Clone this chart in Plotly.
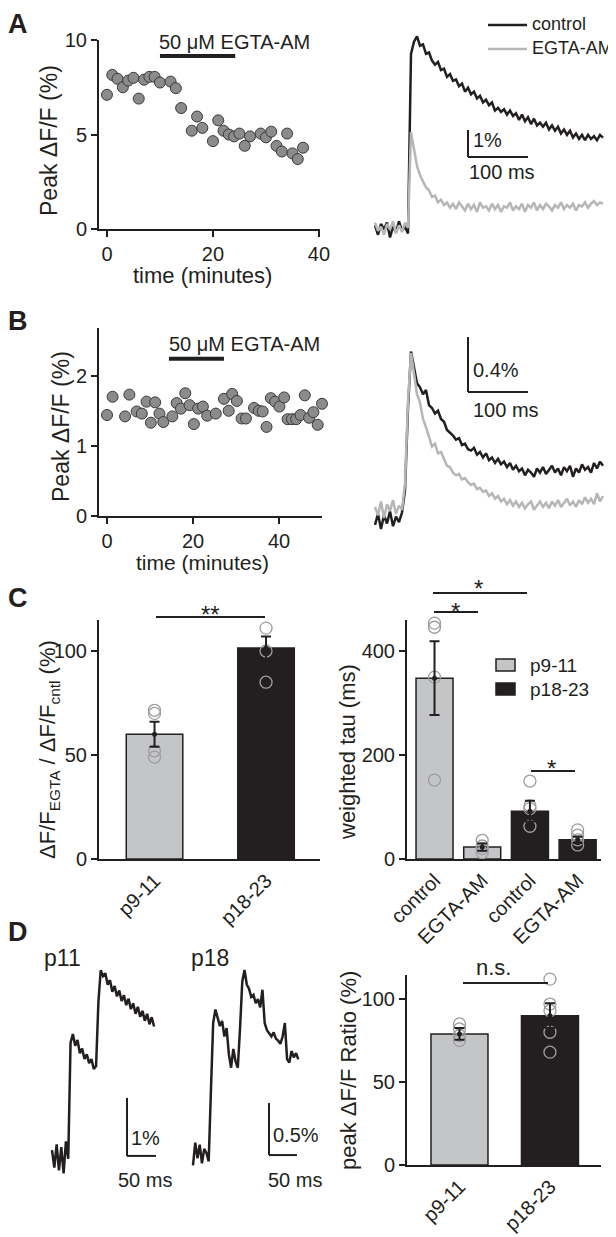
import plotly.graph_objects as go

# ---------------- data ----------------
# Panel A: peak dF/F over time
A_time_min = [0, 1, 2, 3, 4, 5, 6, 7, 8, 9, 10, 12, 13, 14, 16, 17, 18, 20, 21, 22, 23, 24, 25, 26, 27, 29, 30, 31, 32, 33, 34, 35, 36, 37]
A_peak = [7.1, 8.15, 7.95, 7.5, 7.85, 8.0, 6.9, 7.9, 8.05, 8.05, 7.75, 7.8, 7.45, 6.4, 5.2, 5.95, 5.35, 4.65, 5.75, 5.2, 5.0, 4.9, 5.05, 4.4, 4.9, 5.05, 4.85, 5.15, 4.4, 4.1, 5.05, 4.0, 3.7, 4.3]
A_bar_min = [10, 24.2]
A_bar_label = "50 μM EGTA-AM"

# Panel A: example traces (ms, % dF/F)
A_t_ms = [0, 5, 10, 15, 20, 25, 30, 35, 40, 45, 50, 55, 60, 65, 70, 75, 80, 85, 90, 95,
          100, 105, 110, 115, 120, 125, 130, 135, 140, 145, 150, 155, 160, 165, 170, 175, 180, 185, 190, 195,
          200, 205, 210, 215, 220, 225, 230, 235, 240, 245, 250, 255, 260, 265, 270, 275, 280, 285, 290, 295,
          300, 305, 310, 315, 320, 325, 330, 335, 340, 345, 350, 355, 360, 365, 370, 375, 380]
A_control = [0.10, -0.25, 0.15, -0.05, 0.20, -0.35, 0.05, -0.15, 0.25, -0.10, 0.05, -0.20,
             6.45, 6.90, 7.10, 6.75, 6.80, 6.45, 6.50, 6.20, 6.05, 6.15, 5.85, 5.90, 5.60, 5.70, 5.45, 5.50,
             5.25, 5.35, 5.05, 5.20, 4.95, 5.05, 4.80, 4.90, 4.65, 4.75, 4.55, 4.65, 4.35, 4.45, 4.30, 4.40,
             4.20, 4.35, 4.15, 4.25, 4.00, 4.20, 3.95, 4.10, 3.85, 4.05, 3.80, 3.90, 3.75, 3.90, 3.65, 3.80,
             3.60, 3.75, 3.50, 3.65, 3.45, 3.60, 3.35, 3.50, 3.30, 3.45, 3.25, 3.45, 3.30, 3.40, 3.25, 3.45, 3.35]
A_egta = [0.20, -0.10, 0.05, -0.25, 0.15, -0.05, 0.25, -0.20, 0.10, -0.15, 0.20, 0.00,
          3.55, 2.85, 2.30, 1.95, 1.70, 1.50, 1.40, 1.15, 1.20, 0.95, 1.05, 0.85, 0.95, 0.75, 0.90, 0.70,
          0.95, 0.80, 0.65, 0.90, 0.70, 0.85, 0.60, 0.95, 0.75, 0.80, 0.65, 0.90, 0.70, 0.85, 0.60, 0.80,
          0.75, 0.95, 0.65, 0.80, 0.70, 0.90, 0.60, 0.85, 0.75, 0.95, 0.65, 0.85, 0.70, 0.90, 0.80, 0.65,
          0.85, 0.75, 0.95, 0.70, 0.85, 0.75, 0.90, 0.65, 0.85, 0.80, 0.95, 0.75, 0.90, 1.00, 0.85, 0.95, 0.90]
A_scale = [100, 1.0]  # ms, %
A_legend = ["control", "EGTA-AM"]

# Panel B
B_time_min = [0, 1.3, 4.2, 5.2, 6.9, 8.1, 9.2, 10.2, 11.2, 12.2, 13.1, 15.2, 16.2, 17.2, 18.2, 19.2, 20.2, 21.2,
              22.3, 23.3, 25.3, 27.2, 28.3, 29.1, 30.2, 31.3, 32.3, 34.2, 35.3, 36.2, 37.1, 38.1, 39.1, 40.1,
              41.2, 42.0, 43.0, 44.0, 45.0, 46.0, 47.0, 48.0, 49.0, 50.0]
B_peak = [1.44, 1.70, 1.42, 1.73, 1.49, 1.46, 1.63, 1.33, 1.62, 1.46, 1.34, 1.42, 1.61, 1.53, 1.75, 1.58, 1.31, 1.53,
          1.56, 1.43, 1.46, 1.67, 1.50, 1.74, 1.64, 1.39, 1.39, 1.54, 1.50, 1.49, 1.27, 1.68, 1.63, 1.56,
          1.69, 1.38, 1.38, 1.38, 1.44, 1.72, 1.40, 1.48, 1.30, 1.60]
B_bar_min = [14.4, 27.2]
B_bar_label = "50 μM EGTA-AM"

B_t_ms = A_t_ms
B_control = [-0.05, 0.03, -0.08, 0.02, -0.04, 0.05, -0.06, 0.01, -0.03, 0.04,
             0.20, 0.80, 1.21, 1.10, 0.98, 0.95, 0.90, 0.93, 0.82, 0.80, 0.76, 0.78, 0.72, 0.70, 0.64, 0.62,
             0.60, 0.57, 0.58, 0.53, 0.54, 0.50, 0.49, 0.51, 0.46, 0.48, 0.44, 0.47, 0.42, 0.44, 0.40, 0.43,
             0.39, 0.41, 0.37, 0.40, 0.35, 0.38, 0.34, 0.36, 0.31, 0.35, 0.33, 0.30, 0.36, 0.33, 0.37, 0.32,
             0.35, 0.38, 0.33, 0.36, 0.31, 0.37, 0.34, 0.38, 0.30, 0.36, 0.33, 0.39, 0.35, 0.37, 0.33, 0.40,
             0.36, 0.41, 0.38]
B_egta = [0.08, 0.02, 0.12, 0.00, 0.10, 0.05, 0.13, 0.03, 0.09, 0.06,
          0.25, 0.85, 1.20, 1.05, 0.90, 0.84, 0.72, 0.66, 0.58, 0.52, 0.54, 0.47, 0.48, 0.43, 0.38, 0.37,
          0.33, 0.31, 0.32, 0.28, 0.29, 0.26, 0.24, 0.25, 0.21, 0.22, 0.19, 0.20, 0.16, 0.18, 0.14, 0.16,
          0.12, 0.14, 0.10, 0.13, 0.09, 0.12, 0.08, 0.11, 0.07, 0.10, 0.12, 0.06, 0.09, 0.12, 0.08, 0.11,
          0.07, 0.12, 0.09, 0.13, 0.08, 0.11, 0.14, 0.09, 0.12, 0.08, 0.13, 0.10, 0.15, 0.11, 0.14, 0.10,
          0.18, 0.12, 0.16]
B_scale = [100, 0.4]

# Panel C left: amplitude ratio
C1_groups = ["p9-11", "p18-23"]
C1_mean = [60.0, 101.4]
C1_sem = [6.0, 5.6]
C1_points = [[71.5, 70.0, 52.0, 49.0], [111.0, 100.0, 85.0]]

# Panel C right: weighted tau
C2_labels = ["control", "EGTA-AM", "control", "EGTA-AM"]
C2_mean = [348, 23, 92, 37]
C2_sem = [71, 7, 20, 6]
C2_points = [[454, 446, 350, 152], [36, 25, 20, 12], [150, 102, 97, 63], [56, 46, 37, 27]]
C2_age = ["p9-11", "p9-11", "p18-23", "p18-23"]

# Panel D traces
D11_t = [0, 4, 8, 12, 16, 20, 24, 28, 32, 36, 40, 44, 48, 52, 56, 60, 64, 68, 72, 76, 80, 84, 88,
         92, 96, 100, 104, 108, 112, 116, 120, 124, 128, 132, 136, 140, 144, 148, 152, 156, 160, 164,
         168, 172, 176]
D11_v = [0.05, -0.25, 0.15, -0.30, 0.10, -0.35, 0.20, -0.10,
         1.90, 2.05, 1.85, 1.95, 1.72, 1.80, 1.62, 1.70, 1.55, 1.62, 1.45, 1.50, 2.60, 3.15, 3.05,
         3.10, 2.90, 2.98, 2.78, 2.88, 2.70, 2.80, 2.62, 2.72, 2.55, 2.66, 2.48, 2.58, 2.40, 2.52,
         2.35, 2.45, 2.28, 2.40, 2.22, 2.34, 2.18]
D18_t = [0, 4, 8, 12, 16, 20, 24, 28, 32, 36, 40, 44, 48, 52, 56, 60, 64, 68, 72, 76, 80, 84, 88,
         92, 96, 100, 104, 108, 112, 116, 120, 124, 128, 132, 136, 140, 144, 148, 152, 156, 160, 164,
         168, 172, 176, 180, 184, 188]
D18_v = [-0.12, 0.10, -0.05, 0.08, -0.10, 0.04, 0.00, -0.08,
         0.60, 1.25, 1.38, 1.30, 1.22, 1.27, 1.12, 1.20, 0.95, 0.82, 1.00, 0.88, 0.82, 1.20, 1.65,
         1.76, 1.62, 1.58, 1.50, 1.52, 1.44, 1.48, 1.40, 1.57, 1.25, 1.18, 1.15, 1.12, 1.16, 1.10,
         1.08, 1.05, 1.12, 1.25, 0.90, 0.87, 0.98, 0.92, 0.96, 0.90]
D11_scale = [50, 1.0]
D18_scale = [50, 0.5]

# Panel D right: peak ratio
D_groups = ["p9-11", "p18-23"]
D_mean = [79, 90]
D_sem = [3.5, 7.5]
D_points = [[85, 82, 78, 75], [112, 97, 93, 80, 68]]

# ---------------- styling helpers ----------------
# The page body has an 8px margin: the figure starts 8px into the window, so it is
# sized to reach the window's right/bottom edges and positions are shifted by 8px.
OFF = 8
W, H = 616 - OFF, 1237 - OFF
INK = "#231f20"
GREY = "#c4c5c7"
TRACE_GREY = "#b5b6b8"
DOT = "#8b8b8d"
FONT = "Liberation Sans, Arial, Helvetica, sans-serif"


def px(x):
    return (x - OFF) / W


def py(y):
    return 1 - (y - OFF) / H


def clamp(v):
    return min(1.0, max(0.0, v))


def dx(a, b):
    return [clamp(px(a)), clamp(px(b))]


def dy(top, bottom):
    return [clamp(py(bottom)), clamp(py(top))]


def axis(**kw):
    d = dict(showline=True, linecolor=INK, linewidth=2, ticks="outside", ticklen=6, tickwidth=2,
             tickcolor=INK, showgrid=False, zeroline=False, fixedrange=True, automargin=False,
             tickfont=dict(size=20, color=INK, family=FONT))
    d.update(kw)
    return d


def hidden(**kw):
    d = dict(visible=False, showgrid=False, zeroline=False, fixedrange=True)
    d.update(kw)
    return d


annotations = []
shapes = []


def ann(text, x, y, size=20, xanchor="center", yanchor="middle", angle=0, bold=False):
    annotations.append(dict(text=("<b>%s</b>" % text) if bold else text, x=px(x), y=py(y),
                            xref="paper", yref="paper", showarrow=False, xanchor=xanchor,
                            yanchor=yanchor, textangle=angle,
                            font=dict(size=size, color=INK, family=FONT)))


def pline(x0, x1, y, width=2, color=INK):
    shapes.append(dict(type="line", xref="paper", yref="paper", x0=px(x0), x1=px(x1),
                       y0=py(y), y1=py(y), line=dict(color=color, width=width)))


def prect(x0, x1, y0, y1, fill):
    shapes.append(dict(type="rect", xref="paper", yref="paper", x0=px(x0), x1=px(x1),
                       y0=py(y1), y1=py(y0), fillcolor=fill, line=dict(color=INK, width=1.5)))


fig = go.Figure()

# ---- A scatter ----
fig.add_trace(go.Scatter(x=A_time_min, y=A_peak, mode="markers", xaxis="x", yaxis="y", showlegend=False,
                         marker=dict(size=11, color=DOT, line=dict(color="#3a3a3a", width=1)),
                         cliponaxis=False))
shapes.append(dict(type="line", xref="x", yref="y", x0=A_bar_min[0], x1=A_bar_min[1], y0=9.15, y1=9.15,
                   line=dict(color=INK, width=4)))
ann(A_bar_label, 157, 42, size=20, xanchor="left")

# ---- A traces ----
fig.add_trace(go.Scatter(x=A_t_ms, y=A_control, mode="lines", name=A_legend[0], xaxis="x2", yaxis="y2",
                         line=dict(color=INK, width=2.5), showlegend=False))
fig.add_trace(go.Scatter(x=A_t_ms, y=A_egta, mode="lines", name=A_legend[1], xaxis="x2", yaxis="y2",
                         line=dict(color=TRACE_GREY, width=2.5), showlegend=False))
sbx, sby = 155, 2.63
shapes.append(dict(type="line", xref="x2", yref="y2", x0=sbx, x1=sbx, y0=sby, y1=sby + A_scale[1],
                   line=dict(color=INK, width=2)))
shapes.append(dict(type="line", xref="x2", yref="y2", x0=sbx, x1=sbx + A_scale[0], y0=sby, y1=sby,
                   line=dict(color=INK, width=2)))
ann("1%", 471, 140, size=20, xanchor="left")
ann("100 ms", 502, 172, size=20)
# legend (drawn by hand)
pline(488, 527, 25, width=2.5, color=INK)
ann(A_legend[0], 530, 24, size=18, xanchor="left")
pline(488, 527, 49, width=2.5, color=TRACE_GREY)
ann(A_legend[1], 530, 48, size=18, xanchor="left")

# ---- B scatter ----
fig.add_trace(go.Scatter(x=B_time_min, y=B_peak, mode="markers", xaxis="x3", yaxis="y3", showlegend=False,
                         marker=dict(size=11, color=DOT, line=dict(color="#3a3a3a", width=1)),
                         cliponaxis=False))
shapes.append(dict(type="line", xref="x3", yref="y3", x0=B_bar_min[0], x1=B_bar_min[1], y0=2.24, y1=2.24,
                   line=dict(color=INK, width=4)))
ann(B_bar_label, 167, 344, size=20, xanchor="left")

# ---- B traces ----
fig.add_trace(go.Scatter(x=B_t_ms, y=B_control, mode="lines", xaxis="x4", yaxis="y4", showlegend=False,
                         line=dict(color=INK, width=2.5)))
fig.add_trace(go.Scatter(x=B_t_ms, y=B_egta, mode="lines", xaxis="x4", yaxis="y4", showlegend=False,
                         line=dict(color=TRACE_GREY, width=2.5)))
sbx, sby = 155, 0.916
shapes.append(dict(type="line", xref="x4", yref="y4", x0=sbx, x1=sbx, y0=sby, y1=sby + B_scale[1],
                   line=dict(color=INK, width=2)))
shapes.append(dict(type="line", xref="x4", yref="y4", x0=sbx, x1=sbx + B_scale[0], y0=sby, y1=sby,
                   line=dict(color=INK, width=2)))
ann("0.4%", 471, 370, size=20, xanchor="left")
ann("100 ms", 506, 410, size=20)


# ---- bar chart helper ----
def bar_panel(xa, ya, means, sems, points, colors, width, names=None):
    n = len(means)
    xs = list(range(n))
    fig.add_trace(go.Bar(x=xs, y=means, width=width, xaxis=xa, yaxis=ya, showlegend=False,
                         hovertext=names,
                         marker=dict(color=colors, line=dict(color=INK, width=1.5))))
    px_, py_ = [], []
    for i, pts in enumerate(points):
        px_ += [i] * len(pts)
        py_ += pts
    fig.add_trace(go.Scatter(x=px_, y=py_, mode="markers", xaxis=xa, yaxis=ya, showlegend=False,
                             cliponaxis=False,
                             marker=dict(symbol="circle-open", size=12, color="#9d9d9f",
                                         line=dict(width=1.3))))
    fig.add_trace(go.Scatter(x=xs, y=means, mode="markers", xaxis=xa, yaxis=ya, showlegend=False,
                             cliponaxis=False, marker=dict(size=5, color=INK),
                             error_y=dict(type="data", array=sems, color=INK, thickness=2, width=5)))


# ---- C left ----
bar_panel("x5", "y5", C1_mean, C1_sem, C1_points, [GREY, INK], 0.507)
pline(156, 265, 617)
ann("**", 210, 614, size=24)

# ---- C right ----
bar_panel("x6", "y6", C2_mean, C2_sem, C2_points, [GREY, GREY, INK, INK], 0.776, names=C2_age)
pline(433, 527, 593)
ann("*", 478, 588, size=24)
pline(434, 478, 612)
ann("*", 455, 611, size=24)
pline(531, 575, 771)
ann("*", 551, 768, size=24)
# legend for age groups
prect(496, 515, 659, 671, GREY)
ann("p9-11", 528, 665, size=19, xanchor="left")
prect(496, 515, 683, 695, INK)
ann("p18-23", 528, 689, size=19, xanchor="left")

# ---- D traces ----
fig.add_trace(go.Scatter(x=D11_t, y=D11_v, mode="lines", xaxis="x7", yaxis="y7", showlegend=False,
                         line=dict(color=INK, width=2.5)))
fig.add_trace(go.Scatter(x=D18_t, y=D18_v, mode="lines", xaxis="x8", yaxis="y8", showlegend=False,
                         line=dict(color=INK, width=2.5)))
s11x, s11y = 129.3, -0.05
shapes.append(dict(type="line", xref="x7", yref="y7", x0=s11x, x1=s11x, y0=s11y, y1=s11y + D11_scale[1],
                   line=dict(color=INK, width=2)))
shapes.append(dict(type="line", xref="x7", yref="y7", x0=s11x, x1=s11x + D11_scale[0], y0=s11y, y1=s11y,
                   line=dict(color=INK, width=2)))
s18x, s18y = 135.7, -0.02
shapes.append(dict(type="line", xref="x8", yref="y8", x0=s18x, x1=s18x, y0=s18y, y1=s18y + D18_scale[1],
                   line=dict(color=INK, width=2)))
shapes.append(dict(type="line", xref="x8", yref="y8", x0=s18x, x1=s18x + D18_scale[0], y0=s18y, y1=s18y,
                   line=dict(color=INK, width=2)))
ann("1%", 129, 1138, size=20, xanchor="left")
ann("50 ms", 145, 1180, size=20)
ann("0.5%", 271, 1135, size=20, xanchor="left")
ann("50 ms", 295, 1180, size=20)
ann("p11", 62, 958, size=23)
ann("p18", 210, 958, size=23)

# ---- D right ----
bar_panel("x9", "y9", D_mean, D_sem, D_points, [GREY, INK], 0.63)
pline(463, 548, 983)
ann("n.s.", 493, 967, size=22)

# ---- axis titles ----
ann("Peak ΔF/F (%)", 49, 141, size=23, angle=-90)
ann("time (minutes)", 202, 275, size=22)
ann("Peak ΔF/F (%)", 61, 426, size=23, angle=-90)
ann("time (minutes)", 202, 562, size=21)
ann("ΔF/F<sub>EGTA</sub> / ΔF/F<sub>cntl</sub> (%)", 49, 750, size=22, angle=-90)
ann("weighted tau (ms)", 347, 752, size=22, angle=-90)
ann("peak ΔF/F Ratio (%)", 348, 1071, size=22, angle=-90)

# ---- panel letters ----
ann("A", 18, 24, size=27, bold=True)
ann("B", 18, 321, size=27, bold=True)
ann("C", 18, 598, size=27, bold=True)
ann("D", 18, 932, size=27, bold=True)

rot = dict(tickangle=-45, ticks="", tickfont=dict(size=20, color=INK, family=FONT))

fig.update_layout(
    width=W, height=H, margin=dict(l=0, r=0, t=0, b=0, pad=0, autoexpand=False), autosize=False,
    paper_bgcolor="white", plot_bgcolor="white", barmode="overlay", showlegend=False,
    font=dict(family=FONT, color=INK, size=20),
    xaxis=axis(domain=dx(99, 320), range=[-1.5, 40.2], anchor="y", tickvals=[0, 20, 40]),
    yaxis=axis(domain=dy(40, 229), range=[0, 10], anchor="x", tickvals=[0, 5, 10]),
    xaxis2=hidden(domain=dx(370, 608), range=[-8.33, 388.33], anchor="y2"),
    yaxis2=hidden(domain=dy(15, 240), range=[-0.444, 7.889], anchor="x2"),
    xaxis3=axis(domain=dx(99, 322), range=[-1.86, 50], anchor="y3", tickvals=[0, 20, 40]),
    yaxis3=axis(domain=dy(328, 516), range=[0, 2.68], anchor="x3", tickvals=[0, 1, 2]),
    xaxis4=hidden(domain=dx(370, 608), range=[-8.33, 388.33], anchor="y4"),
    yaxis4=hidden(domain=dy(330, 540), range=[-0.16, 1.367], anchor="x4"),
    xaxis5=axis(domain=dx(99, 320), range=[-0.498, 1.484], anchor="y5", tickvals=[0, 1],
                ticktext=C1_groups, **rot),
    yaxis5=axis(domain=dy(620, 859), range=[0, 114.9], anchor="x5", tickvals=[0, 50, 100]),
    xaxis6=axis(domain=dx(407, 601), range=[-0.577, 3.49], anchor="y6", tickvals=[0, 1, 2, 3],
                ticktext=C2_labels, **rot),
    yaxis6=axis(domain=dy(620, 859), range=[0, 460], anchor="x6", tickvals=[0, 200, 400]),
    xaxis7=hidden(domain=dx(45, 180), range=[-12.07, 220.7], anchor="y7"),
    yaxis7=hidden(domain=dy(940, 1200), range=[-0.81, 3.672], anchor="x7"),
    xaxis8=hidden(domain=dx(185, 330), range=[-14.29, 244.6], anchor="y8"),
    yaxis8=hidden(domain=dy(940, 1200), range=[-0.452, 2.048], anchor="x8"),
    xaxis9=axis(domain=dx(407, 601), range=[-0.58, 1.564], anchor="y9", tickvals=[0, 1],
                ticktext=D_groups, **rot),
    yaxis9=axis(domain=dy(975, 1165), range=[0, 114.5], anchor="x9", tickvals=[0, 50, 100]),
    annotations=annotations, shapes=shapes,
)

fig.write_html("out.html")
